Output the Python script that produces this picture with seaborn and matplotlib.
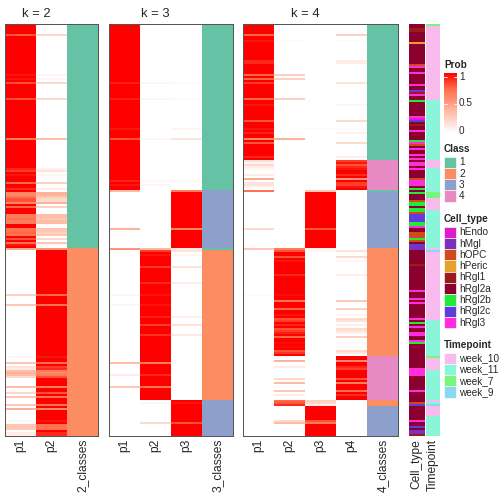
import numpy as np
import pandas as pd
import matplotlib
matplotlib.use("Agg")
import matplotlib.pyplot as plt
from matplotlib.colors import LinearSegmentedColormap, ListedColormap
from matplotlib.patches import Rectangle
import seaborn as sns

sns.set_theme(style="white")
plt.rcParams['font.family'] = ['Liberation Sans', 'DejaVu Sans']

n_rows = 206

# class membership along the rows, as runs of (class, number of rows)
k2_class_runs = [(1, 112), (2, 94)]
k3_class_runs = [(1, 83), (3, 29), (1, 1), (2, 75), (3, 18)]
k4_class_runs = [(1, 68), (4, 15), (1, 1), (3, 28), (2, 54), (4, 22), (2, 3), (3, 15)]

# rows whose membership probability is not a clean 0/1
k2_p1_soft = {5: 0.78, 25: 0.95, 27: 0.95, 29: 0.8, 37: 0.8, 57: 0.65, 72: 0.92, 73: 0.85,
              75: 0.95, 79: 0.75, 82: 0.9, 84: 0.6, 85: 0.6, 86: 0.7, 87: 0.8, 88: 0.8, 89: 0.6,
              91: 0.75, 95: 0.65, 96: 0.65, 97: 0.7, 98: 0.65, 99: 0.65, 102: 0.7, 103: 0.7,
              104: 0.75, 105: 0.7, 107: 0.8, 109: 0.7, 110: 0.95, 112: 0.45, 135: 0.25, 140: 0.3,
              166: 0.05, 169: 0.3, 171: 0.15, 172: 0.1, 173: 0.35, 174: 0.4, 175: 0.35, 176: 0.2,
              181: 0.35, 184: 0.2, 186: 0.3, 190: 0.3, 192: 0.4, 198: 0.05, 200: 0.3, 201: 0.3,
              202: 0.3, 204: 0.1, 205: 0.1}

k3_soft = {29: (0.92, 0.05, 0.03), 37: (0.92, 0.05, 0.03), 52: (0.95, 0.0, 0.05),
           57: (0.8, 0.05, 0.15), 78: (0.92, 0.04, 0.04), 80: (0.95, 0.05, 0.0),
           83: (0.35, 0.0, 0.65), 102: (0.4, 0.0, 0.6), 112: (0.55, 0.35, 0.1),
           113: (0.0, 0.85, 0.15), 115: (0.0, 0.95, 0.05), 121: (0.0, 0.85, 0.15),
           129: (0.0, 0.9, 0.1), 135: (0.05, 0.95, 0.0), 140: (0.05, 0.95, 0.0),
           146: (0.0, 0.92, 0.08), 150: (0.0, 0.85, 0.15), 155: (0.0, 0.88, 0.12),
           169: (0.35, 0.65, 0.0), 175: (0.1, 0.9, 0.0), 181: (0.3, 0.7, 0.0),
           189: (0.0, 0.05, 0.95), 199: (0.0, 0.2, 0.8)}

k4_soft = {5: (0.75, 0, 0, 0.25), 8: (0.95, 0.03, 0, 0.02), 18: (0.9, 0, 0, 0.1),
           19: (0.9, 0, 0, 0.1), 25: (0.75, 0.25, 0, 0), 27: (0.75, 0.25, 0, 0),
           29: (0.85, 0, 0, 0.15), 37: (0.75, 0.25, 0, 0), 40: (0.95, 0, 0, 0.05),
           48: (0.8, 0, 0, 0.2), 52: (0.95, 0, 0.03, 0.02), 54: (0.92, 0, 0, 0.08),
           57: (0.6, 0.4, 0, 0), 59: (0.8, 0, 0, 0.2), 66: (0.9, 0, 0, 0.1),
           68: (0.15, 0, 0, 0.85), 69: (0.05, 0, 0, 0.95), 70: (0.2, 0, 0, 0.8),
           71: (0.1, 0, 0, 0.9), 72: (0.05, 0, 0, 0.95), 75: (0.1, 0, 0, 0.9),
           77: (0.45, 0, 0, 0.55), 79: (0.15, 0, 0, 0.85), 80: (0.15, 0, 0, 0.85),
           81: (0.05, 0, 0, 0.95), 83: (0.7, 0, 0.3, 0), 102: (0.2, 0, 0.8, 0),
           112: (0.3, 0.65, 0.05, 0), 113: (0, 0.8, 0.05, 0.15), 116: (0, 0.8, 0, 0.2),
           118: (0, 0.95, 0, 0.05), 125: (0, 0.9, 0, 0.1), 135: (0.03, 0.97, 0, 0),
           138: (0, 0.7, 0, 0.3), 142: (0, 0.75, 0, 0.25), 145: (0, 0.95, 0, 0.05),
           147: (0, 0.8, 0, 0.2), 148: (0, 0.85, 0, 0.15), 150: (0, 0.92, 0, 0.08),
           152: (0, 0.8, 0, 0.2), 153: (0, 0.85, 0, 0.15), 154: (0, 0.93, 0, 0.07),
           156: (0, 0.75, 0, 0.25), 159: (0, 0.97, 0, 0.03), 161: (0, 0.98, 0, 0.02),
           163: (0, 0.8, 0, 0.2), 164: (0, 0.88, 0, 0.12), 168: (0, 0.4, 0, 0.6),
           171: (0, 0.1, 0, 0.9), 172: (0, 0, 0, 0.85), 177: (0, 0.2, 0, 0.8),
           179: (0, 0.35, 0, 0.65), 183: (0, 0.3, 0, 0.7), 185: (0, 0.1, 0, 0.9),
           188: (0, 0.75, 0.25, 0), 189: (0, 0.8, 0.2, 0), 190: (0, 0.9, 0.1, 0),
           198: (0, 0.2, 0.8, 0), 199: (0, 0.35, 0.65, 0)}

cell_types = ['hEndo', 'hMgl', 'hOPC', 'hPeric', 'hRgl1', 'hRgl2a', 'hRgl2b', 'hRgl2c', 'hRgl3']
cell_type_colors = ['#E01CC8', '#7B30BE', '#D24A1C', '#E6A02E', '#9C1A1A', '#8C0030',
                    '#22EA3A', '#5E3DDB', '#FF2ED8']
cell_type_runs = [('hRgl2a', 2), ('hRgl1', 2), ('hRgl2a', 5), ('hPeric', 1), ('hRgl2a', 10),
                  ('hOPC', 1), ('hRgl3', 1), ('hRgl2a', 2), ('hRgl3', 1), ('hRgl2a', 5),
                  ('hRgl3', 1), ('hRgl2a', 2), ('hRgl2c', 1), ('hRgl1', 1), ('hRgl3', 1),
                  ('hRgl2a', 2), ('hRgl2b', 1), ('hRgl2a', 7), ('hRgl3', 1), ('hEndo', 1),
                  ('hRgl2c', 1), ('hRgl2a', 1), ('hRgl1', 1), ('hRgl2a', 2), ('hRgl3', 1),
                  ('hRgl2a', 4), ('hRgl2b', 1), ('hRgl3', 1), ('hOPC', 1), ('hRgl2a', 1),
                  ('hRgl3', 1), ('hRgl2a', 2), ('hRgl3', 1), ('hRgl2a', 1), ('hRgl3', 1),
                  ('hRgl2a', 1), ('hRgl3', 2), ('hRgl2a', 1), ('hRgl3', 1), ('hRgl2a', 4),
                  ('hOPC', 1), ('hRgl3', 3), ('hRgl2a', 1), ('hRgl2b', 1), ('hRgl2a', 1),
                  ('hRgl2b', 1), ('hRgl2a', 3), ('hOPC', 1), ('hRgl2b', 2), ('hRgl2a', 1),
                  ('hRgl2b', 2), ('hOPC', 1), ('hRgl2c', 4), ('hRgl2b', 2), ('hRgl3', 1),
                  ('hRgl2a', 2), ('hOPC', 3), ('hRgl2b', 1), ('hOPC', 1), ('hRgl2a', 1),
                  ('hRgl2c', 1), ('hMgl', 2), ('hRgl2a', 7), ('hRgl1', 1), ('hRgl2a', 12),
                  ('hRgl3', 1), ('hRgl2a', 3), ('hRgl3', 1), ('hRgl2a', 1), ('hRgl3', 1),
                  ('hRgl2a', 7), ('hRgl3', 1), ('hRgl2a', 1), ('hRgl2b', 1), ('hRgl2a', 1),
                  ('hRgl3', 1), ('hRgl2a', 2), ('hRgl3', 2), ('hRgl2a', 2), ('hRgl3', 1),
                  ('hRgl2b', 1), ('hRgl2a', 12), ('hRgl3', 4), ('hRgl2a', 7), ('hRgl3', 1),
                  ('hRgl2a', 5), ('hOPC', 1), ('hRgl2c', 1), ('hRgl2a', 7), ('hRgl3', 1),
                  ('hRgl2a', 2), ('hRgl2c', 1), ('hRgl2a', 1), ('hMgl', 2), ('hRgl1', 1)]

timepoints = ['week_10', 'week_11', 'week_7', 'week_9']
timepoint_colors = ['#F9BBEE', '#8AF5D8', '#78F57C', '#88D8F0']
timepoint_runs = [('week_7', 1), ('week_10', 37), ('week_11', 30), ('week_10', 4),
                  ('week_11', 12), ('week_7', 3), ('week_10', 6), ('week_11', 19),
                  ('week_10', 1), ('week_9', 1), ('week_10', 34), ('week_11', 18),
                  ('week_7', 1), ('week_10', 6), ('week_11', 15), ('week_10', 1),
                  ('week_11', 1), ('week_9', 1), ('week_10', 5), ('week_11', 10)]

class_labels = ['1', '2', '3', '4']
class_colors = ['#66C2A5', '#FC8D62', '#8DA0CB', '#E78AC3']

prob_cmap = LinearSegmentedColormap.from_list(
    'prob', [(0, '#FFFFFF'), (0.25, '#FFCFBF'), (0.5, '#FF9E81'), (0.75, '#FF6846'), (1, '#FF0000')])


def expand(runs):
    return np.repeat([v for v, n in runs], [n for v, n in runs])


def build_probs(class_runs, soft, k):
    cls = expand(class_runs).astype(int)
    probs = np.zeros((n_rows, k))
    probs[np.arange(n_rows), cls - 1] = 1.0
    for r, vals in soft.items():
        probs[r] = vals
    return cls, probs


k2_soft = {r: (p, 1 - p) for r, p in k2_p1_soft.items()}
panels = [(2, *build_probs(k2_class_runs, k2_soft, 2), 5),
          (3, *build_probs(k3_class_runs, k3_soft, 3), 109),
          (4, *build_probs(k4_class_runs, k4_soft, 4), 243)]

W = H = 504
fig = plt.figure(figsize=(7, 7), dpi=72)


def px_axes(x0, y0, x1, y1):
    return fig.add_axes([x0 / W, 1 - y1 / H, (x1 - x0) / W, (y1 - y0) / H])


top, bottom, col_w = 24, 436, 31
cax = px_axes(444, 73, 457, 133)

for k, cls, probs, x0 in panels:
    ax = px_axes(x0, top, x0 + (k + 1) * col_w, bottom)
    cols = [f'p{i + 1}' for i in range(k)] + [f'{k}_classes']
    prob_df = pd.DataFrame(np.column_stack([probs, np.zeros(n_rows)]), columns=cols)
    cls_df = pd.DataFrame(np.column_stack([np.zeros((n_rows, k)), cls]), columns=cols)
    mask = np.zeros(prob_df.shape, dtype=bool)
    mask[:, -1] = True
    sns.heatmap(prob_df, mask=mask, cmap=prob_cmap, vmin=0, vmax=1,
                cbar=(k == 2), cbar_ax=cax if k == 2 else None,
                xticklabels=True, yticklabels=False, ax=ax)
    sns.heatmap(cls_df, mask=~mask, cmap=ListedColormap(class_colors), vmin=0.5, vmax=4.5,
                cbar=False, xticklabels=True, yticklabels=False, ax=ax)
    ax.tick_params(axis='x', length=0, pad=3, labelsize=12, labelrotation=90)
    for s in ax.spines.values():
        s.set_visible(True)
        s.set_color('#555555')
        s.set_linewidth(1.0)
    ax.annotate(f'k = {k}', xy=(k / 2, 1), xycoords=('data', 'axes fraction'),
                xytext=(0, 7), textcoords='offset points', ha='center', va='baseline',
                fontsize=13)

# colour bar for the probabilities: no ticks, no frame
cax.set_yticks([])
for s in cax.spines.values():
    s.set_visible(False)

# row annotations
ct_codes = np.array([cell_types.index(c) for c in expand(cell_type_runs)])
tp_codes = np.array([timepoints.index(t) for t in expand(timepoint_runs)]) + len(cell_types)
anno_df = pd.DataFrame({'Cell_type': ct_codes, 'Timepoint': tp_codes})
anno_ax = px_axes(409, top, 440, bottom)
sns.heatmap(anno_df, cmap=ListedColormap(cell_type_colors + timepoint_colors),
            vmin=-0.5, vmax=len(cell_types) + len(timepoints) - 0.5,
            cbar=False, xticklabels=True, yticklabels=False, ax=anno_ax)
anno_ax.axvline(1, color='white', lw=1)
anno_ax.tick_params(axis='x', length=0, pad=3, labelsize=12, labelrotation=90)

# legends drawn in pixel space
ov = fig.add_axes([0, 0, 1, 1])
ov.set_xlim(0, W)
ov.set_ylim(H, 0)
ov.axis('off')

ov.text(444, 60, 'Prob', fontsize=10, fontweight='bold', va='top')
for v, y in [(1, 76.5), (0.5, 103.5), (0, 131.5)]:
    ov.text(459, y, f'{v:g}', fontsize=10, va='center')
    if v > 0:
        ov.plot([444, 447], [y, y], color='white', lw=0.8)
        ov.plot([454, 457], [y, y], color='white', lw=0.8)


def legend_block(title, labels, colors, title_y):
    ov.text(444, title_y, title, fontsize=10, fontweight='bold', va='top')
    y0 = title_y + 12.5
    for i, (lab, col) in enumerate(zip(labels, colors)):
        y = y0 + i * 11.3
        ov.add_patch(Rectangle((444, y), 12, 11.3, facecolor=col, edgecolor='white', lw=0.6))
        ov.text(459, y + 5.8, lab, fontsize=10, va='center')


legend_block('Class', class_labels, class_colors, 144)
legend_block('Cell_type', cell_types, cell_type_colors, 214)
legend_block('Timepoint', timepoints, timepoint_colors, 340)

plt.savefig('out.png', dpi=72)
